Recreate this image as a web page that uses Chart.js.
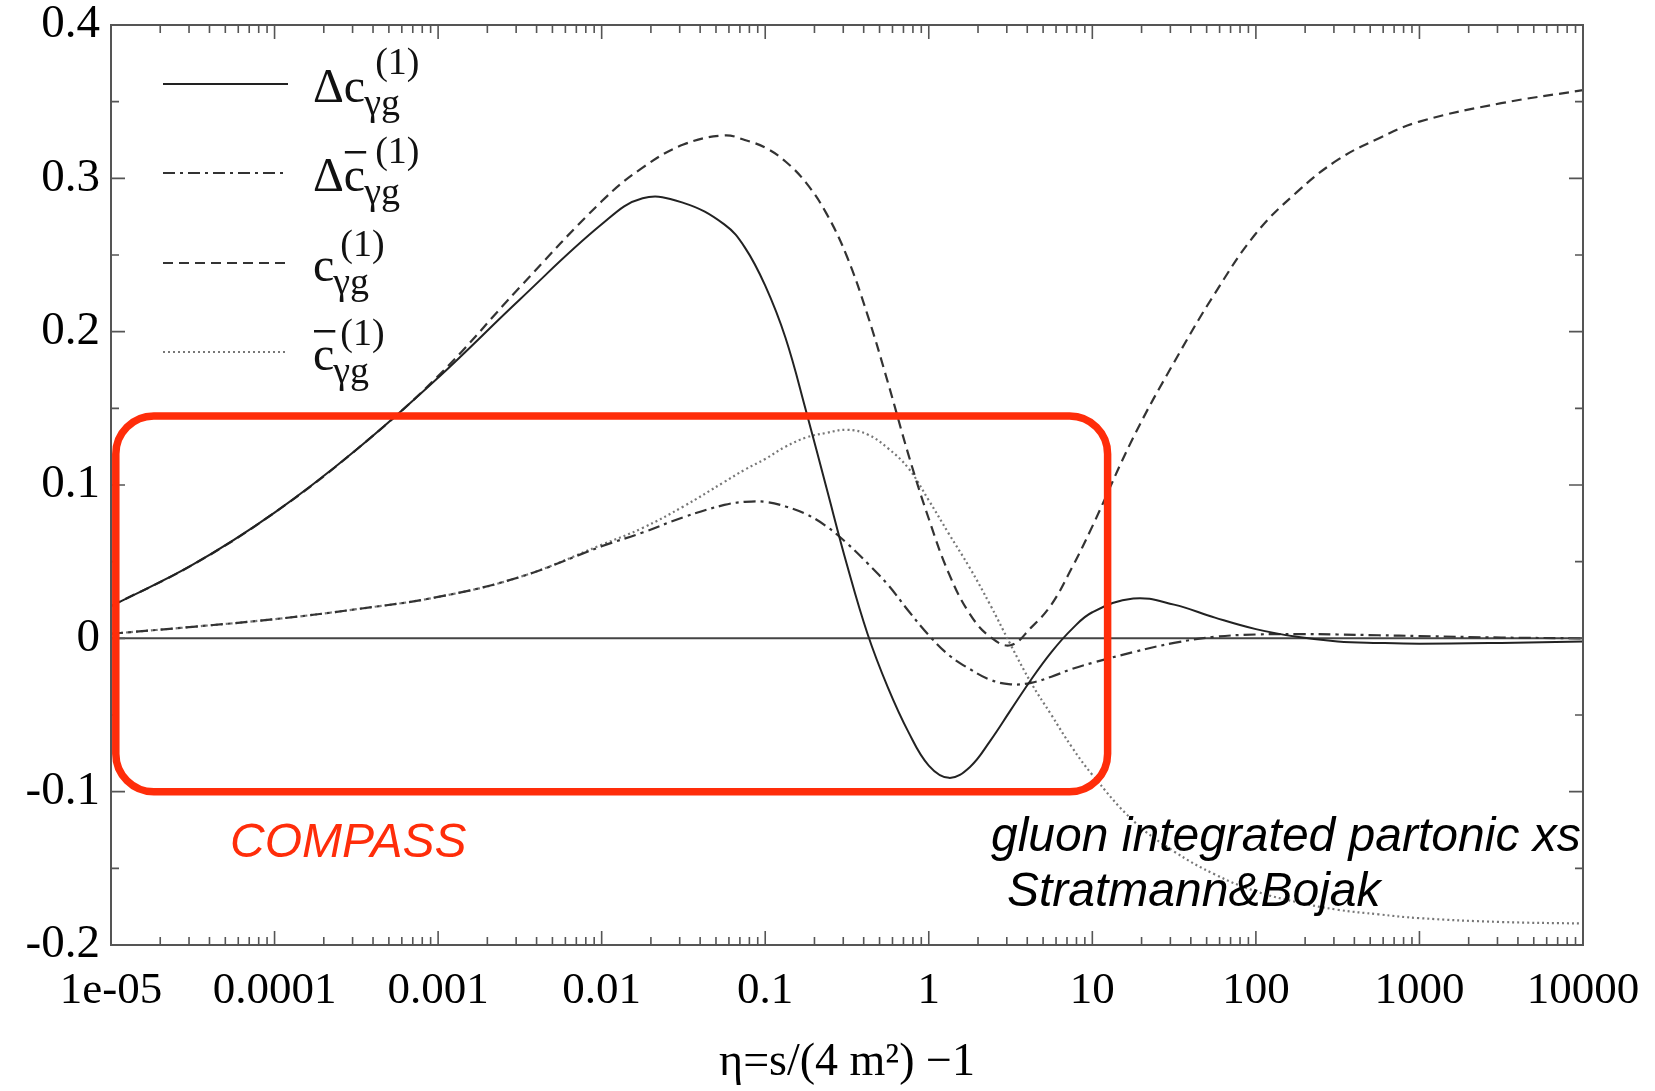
<!DOCTYPE html>
<html>
<head>
<meta charset="utf-8">
<script src="https://cdn.jsdelivr.net/npm/chart.js@4.4.1/dist/chart.umd.min.js"></script>
<style>
  html, body { margin: 0; padding: 0; background: #fff; }
  #wrap { width: 1655px; height: 1091px; }
</style>
</head>
<body>
<div id="wrap"><canvas id="plot" width="1655" height="1091"></canvas></div>
<script>
// values, eta on a log axis
const eta = [1e-5, 3.16e-5, 1e-4, 3.16e-4, 1e-3, 3.16e-3, 0.01, 0.0178, 0.0316, 0.0562,
  0.075, 0.1, 0.133, 0.178, 0.237, 0.316, 0.422, 0.562, 0.75, 1, 1.33,
  1.78, 2.37, 3.16, 4.22, 5.62, 7.5, 10, 17.8, 31.6, 56.2,
  100, 178, 316, 562, 1000, 3162, 10000];

const dcGamma = [0.021, 0.048, 0.082, 0.123, 0.170, 0.221, 0.270, 0.287, 0.284, 0.270,
  0.255, 0.230, 0.196, 0.148, 0.098, 0.048, 0.003, -0.032, -0.061, -0.083, -0.091,
  -0.084, -0.067, -0.047, -0.027, -0.009, 0.006, 0.017, 0.026, 0.022, 0.0135,
  0.006, 0.001, -0.002, -0.003, -0.0035, -0.003, -0.002];

const dcBarGamma = [0.003, 0.0075, 0.0125, 0.019, 0.027, 0.040, 0.060, 0.069, 0.079, 0.087,
  0.089, 0.089, 0.086, 0.081, 0.073, 0.062, 0.049, 0.035, 0.018, 0.002, -0.011,
  -0.020, -0.027, -0.030, -0.029, -0.025, -0.020, -0.016, -0.009, -0.003, 0.001,
  0.0025, 0.0028, 0.0025, 0.002, 0.0015, 0.0005, 0];

const cGamma = [0.021, 0.048, 0.082, 0.123, 0.171, 0.229, 0.285, 0.307, 0.322, 0.328,
  0.325, 0.320, 0.311, 0.297, 0.277, 0.249, 0.211, 0.167, 0.120, 0.078, 0.042,
  0.016, 0.001, -0.0045, 0.007, 0.022, 0.046, 0.073, 0.131, 0.180, 0.225,
  0.264, 0.291, 0.312, 0.326, 0.337, 0.349, 0.3575];

const cBarGamma = [0.003, 0.0075, 0.0125, 0.019, 0.027, 0.040, 0.061, 0.072, 0.086, 0.102,
  0.110, 0.117, 0.125, 0.131, 0.134, 0.136, 0.133, 0.124, 0.111, 0.090, 0.068,
  0.046, 0.022, -0.004, -0.029, -0.050, -0.071, -0.089, -0.119, -0.139, -0.154,
  -0.165, -0.172, -0.177, -0.180, -0.1825, -0.185, -0.186];

const seriesNames = ['Δc', 'Δc̄', 'c', 'c̄'];
const xTickValues = [1e-5, 1e-4, 1e-3, 1e-2, 0.1, 1, 10, 100, 1000, 10000];
const xTickLabels = ['1e-05', '0.0001', '0.001', '0.01', '0.1', '1', '10', '100', '1000', '10000'];
const yTickValues = [-0.2, -0.1, 0, 0.1, 0.2, 0.3, 0.4];
const yTickLabels = ['-0.2', '-0.1', '0', '0.1', '0.2', '0.3', '0.4'];

const serif = '"Liberation Serif", "DejaVu Serif", serif';
const sans = '"Liberation Sans", Arial, sans-serif';

function pts(vals) {
  return eta.map(function(x, i) { return { x: x, y: vals[i] }; });
}

// legend styles, same order as the datasets
const lineStyles = [
  { color: '#222', dash: [], width: 2 },
  { color: '#333', dash: [12, 5, 3, 5], width: 2.2 },
  { color: '#333', dash: [10, 6], width: 2.2 },
  { color: '#777', dash: [2, 3], width: 2.2 }
];

// keep the plot box where the figure has it, whatever the label sizes
function noOverflow(s) {
  s.paddingLeft = 0; s.paddingRight = 0; s.paddingTop = 0; s.paddingBottom = 0;
}

const decor = {
  id: 'decor',
  beforeDatasetsDraw(chart) {
    const { ctx, chartArea: a, scales } = chart;
    const y0 = scales.y.getPixelForValue(0);
    ctx.save();
    ctx.strokeStyle = '#444';
    ctx.lineWidth = 2;
    ctx.beginPath();
    ctx.moveTo(a.left, y0);
    ctx.lineTo(a.right, y0);
    ctx.stroke();
    ctx.restore();
  },
  afterDraw(chart) {
    const { ctx, chartArea: a, scales } = chart;
    const sx = scales.x, sy = scales.y;
    ctx.save();

    // frame
    ctx.strokeStyle = '#555';
    ctx.lineWidth = 2;
    ctx.strokeRect(a.left, a.top, a.right - a.left, a.bottom - a.top);

    // inward ticks, all four sides
    ctx.lineWidth = 1.6;
    ctx.beginPath();
    for (let d = -5; d <= 4; d++) {
      for (let k = 1; k <= 9; k++) {
        const v = k * Math.pow(10, d);
        if (v > 10000 * 1.0001) break;
        const px = sx.getPixelForValue(v);
        const len = k === 1 ? 14 : 8;
        ctx.moveTo(px, a.bottom); ctx.lineTo(px, a.bottom - len);
        ctx.moveTo(px, a.top); ctx.lineTo(px, a.top + len);
      }
    }
    for (let i = 0; i <= 12; i++) {
      const v = -0.2 + i * 0.05;
      const py = sy.getPixelForValue(v);
      const len = i % 2 === 0 ? 14 : 8;
      ctx.moveTo(a.left, py); ctx.lineTo(a.left + len, py);
      ctx.moveTo(a.right, py); ctx.lineTo(a.right - len, py);
    }
    ctx.stroke();

    // legend
    const rows = [84, 173, 263, 352];
    rows.forEach(function(ly, i) {
      const st = lineStyles[i];
      ctx.strokeStyle = st.color;
      ctx.lineWidth = st.width;
      ctx.setLineDash(st.dash);
      ctx.beginPath();
      ctx.moveTo(163, ly);
      ctx.lineTo(288, ly);
      ctx.stroke();
      ctx.setLineDash([]);

      const delta = i < 2;
      const bar = i % 2 === 1;
      ctx.fillStyle = '#111';
      ctx.textBaseline = 'alphabetic';
      ctx.textAlign = 'left';
      ctx.font = '48px ' + serif;
      let x = 313;
      if (delta) {
        ctx.fillText('Δ', x, ly + 18);
        x += ctx.measureText('Δ').width;
      }
      ctx.fillText('c', x, ly + 18);
      const cw = ctx.measureText('c').width;
      if (bar) {
        ctx.fillRect(x + 1, ly - 22, cw, 2.5);
      }
      const end = x + cw;
      ctx.font = '38px ' + serif;
      ctx.fillText('γg', end - 1, ly + 31);
      ctx.fillText('(1)', end + (delta ? 10 : 6), ly - (delta ? 10 : 7));
    });

    // red box
    const bl = sx.getPixelForValue(1.07e-5), br = sx.getPixelForValue(12.4);
    const bt = sy.getPixelForValue(0.145), bb = sy.getPixelForValue(-0.1);
    ctx.strokeStyle = '#ff2d0a';
    ctx.lineWidth = 7.5;
    ctx.beginPath();
    ctx.roundRect(bl, bt, br - bl, bb - bt, 38);
    ctx.stroke();

    // notes
    ctx.font = 'italic 48px ' + sans;
    ctx.fillStyle = '#ff2d0a';
    ctx.fillText('COMPASS', 230, 857);
    ctx.fillStyle = '#000';
    ctx.fillText('gluon integrated partonic xs', 991, 851);
    ctx.fillText('Stratmann&Bojak', 1007, 906);

    ctx.restore();
  }
};

const datasets = [dcGamma, dcBarGamma, cGamma, cBarGamma].map(function(vals, i) {
  const st = lineStyles[i];
  return {
    label: seriesNames[i],
    data: pts(vals),
    borderColor: st.color,
    borderWidth: st.width,
    borderDash: st.dash,
    pointRadius: 0,
    fill: false,
    tension: 0.4
  };
});

new Chart(document.getElementById('plot'), {
  type: 'line',
  data: { datasets: datasets },
  options: {
    responsive: false,
    animation: false,
    layout: { padding: { top: 25, right: 72, left: 0, bottom: 0 } },
    plugins: { legend: { display: false }, tooltip: { enabled: false } },
    scales: {
      x: {
        type: 'logarithmic',
        min: 1e-5,
        max: 1e4,
        grid: { display: false, drawTicks: false },
        border: { display: false },
        afterBuildTicks: function(s) { s.ticks = xTickValues.map(function(v) { return { value: v }; }); },
        afterFit: function(s) { s.height = 146; noOverflow(s); },
        ticks: {
          autoSkip: false,
          maxRotation: 0,
          padding: 24,
          color: '#000',
          font: { family: serif, size: 45, lineHeight: 1 },
          callback: function(v, i) { return xTickLabels[i]; }
        },
        title: {
          display: true,
          text: 'η=s/(4 m²) −1',
          color: '#000',
          font: { family: serif, size: 46, lineHeight: 1.2 },
          padding: { top: 0, bottom: 0 }
        }
      },
      y: {
        min: -0.2,
        max: 0.4,
        grid: { display: false, drawTicks: false },
        border: { display: false },
        afterBuildTicks: function(s) { s.ticks = yTickValues.map(function(v) { return { value: v }; }); },
        afterFit: function(s) { s.width = 111; noOverflow(s); },
        ticks: {
          padding: 11,
          color: '#000',
          font: { family: serif, size: 47, lineHeight: 1 },
          callback: function(v, i) { return yTickLabels[i]; }
        }
      }
    }
  },
  plugins: [decor]
});
</script>
</body>
</html>
